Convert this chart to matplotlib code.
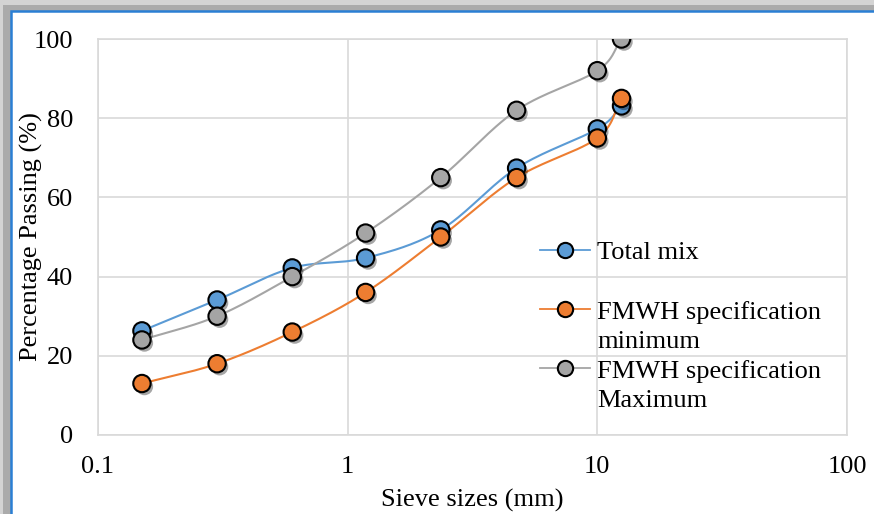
import numpy as np
import matplotlib.pyplot as plt
from matplotlib import patheffects
from matplotlib.lines import Line2D
from matplotlib.patches import Rectangle
from matplotlib.ticker import FixedLocator, FixedFormatter, NullLocator

# --- data ---
sieve_mm = [0.15, 0.3, 0.6, 1.18, 2.36, 4.75, 10, 12.5]
total_mix = [26.3, 34.1, 42.2, 44.7, 51.8, 67.4, 77.3, 83.1]
spec_min = [13, 18, 26, 36, 50, 65, 75, 85]
spec_max = [24, 30, 40, 51, 65, 82, 92, 100]

x_ticks = [0.1, 1, 10, 100]
x_tick_labels = ["0.1", "1", "10", "100"]
y_ticks = [0, 20, 40, 60, 80, 100]

BLUE = "#5B9BD5"
ORANGE = "#ED7D31"
GRAY = "#A5A5A5"
FS = 19

plt.rcParams['font.family'] = ['Liberation Serif', 'DejaVu Serif']


def smooth(xs, ys, n=30):
    # Catmull-Rom curve through the points in (log x, y), like Excel's smoothed line
    lx = np.log10(np.asarray(xs, float))
    y = np.asarray(ys, float)
    px = np.concatenate([[2 * lx[0] - lx[1]], lx, [2 * lx[-1] - lx[-2]]])
    py = np.concatenate([[2 * y[0] - y[1]], y, [2 * y[-1] - y[-2]]])
    t = np.linspace(0, 1, n, endpoint=False)
    ox, oy = [], []
    for i in range(1, len(px) - 2):
        for p, o in ((px, ox), (py, oy)):
            p0, p1, p2, p3 = p[i - 1], p[i], p[i + 1], p[i + 2]
            o.extend(0.5 * (2 * p1 + (-p0 + p2) * t
                            + (2 * p0 - 5 * p1 + 4 * p2 - p3) * t ** 2
                            + (-p0 + 3 * p1 - 3 * p2 + p3) * t ** 3))
    ox.append(lx[-1])
    oy.append(y[-1])
    return 10 ** np.array(ox), np.array(oy)


fig = plt.figure(figsize=(8.74, 5.14), dpi=100)

# frame: grey shadow strip on top/left and a blue border line
fig.patches.append(Rectangle((0, 0), 1, 1, transform=fig.transFigure,
                             facecolor="#d4d4d4", edgecolor="none", zorder=-3))
fig.patches.append(Rectangle((0.004, 0), 1, 0.99, transform=fig.transFigure,
                             facecolor="#ababab", edgecolor="none", zorder=-3))
fig.patches.append(Rectangle((0.0125, -0.05), 1.1, 1.028, transform=fig.transFigure,
                             facecolor="white", edgecolor="#2a7fd4", linewidth=1.8,
                             zorder=-2))

ax = fig.add_axes([0.1121, 0.1537, 0.857, 0.7704])
ax.set_facecolor("none")

shadow = [patheffects.SimplePatchShadow(offset=(1.8, -2.2), alpha=0.35, shadow_rgbFace="black"),
          patheffects.Normal()]

series = [(total_mix, BLUE), (spec_min, ORANGE), (spec_max, GRAY)]
for vals, col in series:
    sx, sy = smooth(sieve_mm, vals)
    ax.plot(sx, sy, color=col, linewidth=1.5, zorder=3)
for vals, col in series:
    ax.plot(sieve_mm, vals, linestyle="none", marker="o", markersize=12.5,
            markerfacecolor=col, markeredgecolor="black", markeredgewidth=1.5,
            zorder=4, path_effects=shadow)

ax.set_xscale("log")
ax.set_xlim(0.1, 100)
ax.set_ylim(0, 100)
ax.xaxis.set_major_locator(FixedLocator(x_ticks))
ax.xaxis.set_major_formatter(FixedFormatter(x_tick_labels))
ax.xaxis.set_minor_locator(NullLocator())
ax.set_yticks(y_ticks)
ax.tick_params(axis="both", length=0, labelsize=FS, colors="black")
ax.tick_params(axis="x", pad=15)
ax.tick_params(axis="y", pad=18)
ax.grid(True, color="#d9d9d9", linewidth=1.2)
for sp in ax.spines.values():
    sp.set_color("#d9d9d9")
    sp.set_linewidth(1.2)

ax.set_xlabel("Sieve sizes (mm)", fontsize=FS, labelpad=8)
ax.set_ylabel("Percentage Passing (%)", fontsize=FS)
ax.yaxis.set_label_coords(-0.073, 0.5)

# legend rows: each two-line label split so the marker sits on its first line
def handle(col):
    return Line2D([], [], color=col, linewidth=1.3, marker="o", markersize=11,
                  markerfacecolor=col, markeredgecolor="black", markeredgewidth=1.5)

blank = Line2D([], [], linestyle="none")
handles = [handle(BLUE), blank, handle(ORANGE), blank, handle(GRAY), blank]
labels = ["Total mix", " ", "FMWH specification", "minimum",
          "FMWH specification", "Maximum"]
leg = ax.legend(handles, labels, loc="upper left", bbox_to_anchor=(0.59, 0.49),
                frameon=False, fontsize=FS, handlelength=1.9, handletextpad=0.27,
                labelspacing=0.23, borderaxespad=0, borderpad=0)

fig.savefig("out.png", dpi=100)
